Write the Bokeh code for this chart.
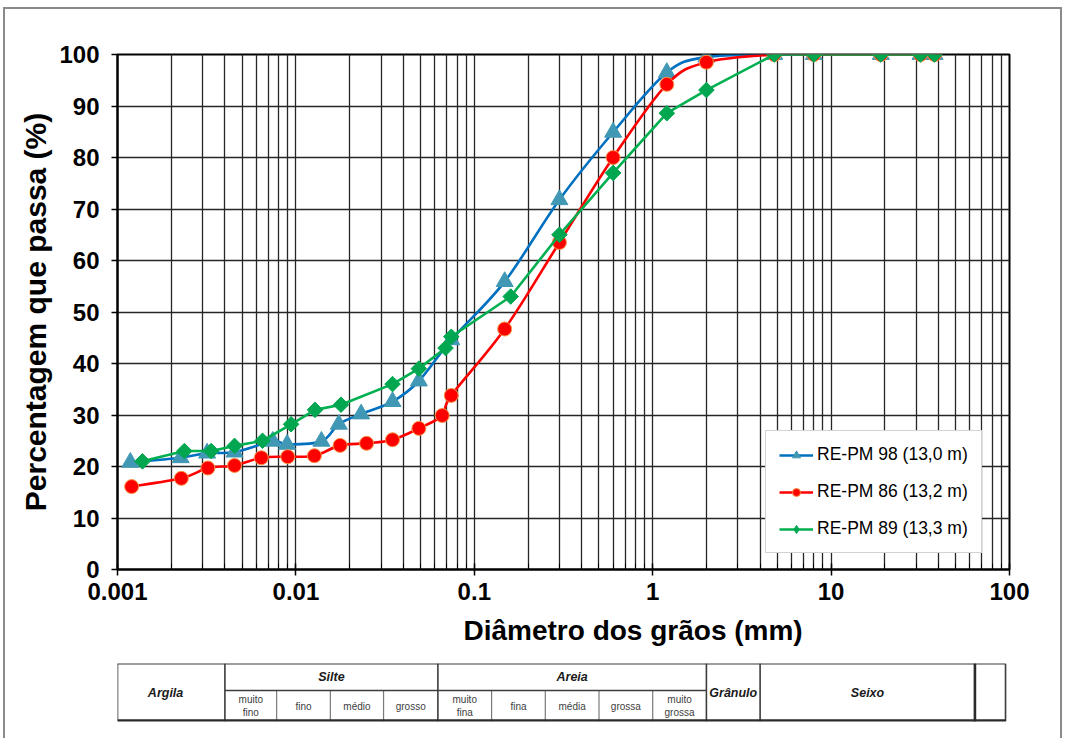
import numpy as np
from bokeh.plotting import figure
from bokeh.models import Range1d, FixedTicker, Legend, LegendItem, ColumnDataSource, Title
from bokeh.layouts import column
from bokeh.embed import file_html
from bokeh.resources import INLINE
from bokeh.core.properties import value

# ---------------- data ----------------
x_ticks = [0.001, 0.01, 0.1, 1, 10, 100]
x_tick_labels = ["0.001", "0.01", "0.1", "1", "10", "100"]
y_ticks = [0, 10, 20, 30, 40, 50, 60, 70, 80, 90, 100]

s98_name = "RE-PM 98 (13,0 m)"
s98_x = [0.00118, 0.00226, 0.00318, 0.00453, 0.00742, 0.00893, 0.0139, 0.0174, 0.0232, 0.0348,
         0.0489, 0.0743, 0.148, 0.30, 0.60, 1.2, 2.0, 4.8, 8.0, 19.0, 31.7, 38.0]
s98_y = [20.8, 21.7, 22.6, 22.8, 24.9, 24.3, 24.9, 28.2, 30.2, 32.6,
         36.6, 44.6, 55.9, 71.8, 84.9, 96.5, 99.5, 100, 100, 100, 100, 100]

s86_name = "RE-PM 86 (13,2 m)"
s86_x = [0.0012, 0.00228, 0.00321, 0.00453, 0.0064, 0.0090, 0.0127, 0.0177, 0.0249, 0.0348,
         0.0489, 0.0661, 0.0743, 0.148, 0.30, 0.60, 1.2, 2.0, 4.8, 8.0, 19.0, 31.7, 38.0]
s86_y = [16.1, 17.7, 19.7, 20.2, 21.7, 21.9, 22.1, 24.1, 24.5, 25.2,
         27.4, 29.9, 33.8, 46.7, 63.5, 80.0, 94.2, 98.5, 100, 100, 100, 100, 100]

s89_name = "RE-PM 89 (13,3 m)"
s89_x = [0.00138, 0.00237, 0.00335, 0.00453, 0.0065, 0.0094, 0.0128, 0.0179, 0.0348, 0.0489,
         0.069, 0.0743, 0.16, 0.30, 0.60, 1.2, 2.0, 4.8, 8.0, 19.0, 31.7, 38.0]
s89_y = [21.0, 23.0, 23.0, 24.0, 25.0, 28.2, 31.0, 32.0, 36.0, 39.0,
         43.0, 45.2, 53.0, 65.0, 77.0, 88.6, 93.1, 100, 100, 100, 100, 100]

# grain-size classification table (mm boundaries)
class_edges = [0.001, 0.004, 0.0625, 2, 4, 64, 95]
class_labels = ["Argila", "Silte", "Areia", "Grânulo", "Seixo", ""]
silt_edges = [0.004, 0.0078, 0.0156, 0.031, 0.0625]
silt_labels = ["muito\nfino", "fino", "médio", "grosso"]
sand_edges = [0.0625, 0.125, 0.25, 0.5, 1, 2]
sand_labels = ["muito\nfina", "fina", "média", "grossa", "muito\ngrossa"]

FONT = "Liberation Sans"


def smooth_source(xs, ys):
    """Cubic Bezier control points (Catmull-Rom in log-x space) for a smoothed line."""
    lx = np.log10(np.asarray(xs, float))
    y = np.asarray(ys, float)
    n = len(lx)
    d = dict(x0=[], y0=[], x1=[], y1=[], cx0=[], cy0=[], cx1=[], cy1=[])
    for i in range(n - 1):
        a = max(i - 1, 0)
        b = min(i + 2, n - 1)
        c1x = lx[i] + (lx[i + 1] - lx[a]) / 6.0
        c1y = y[i] + (y[i + 1] - y[a]) / 6.0
        c2x = lx[i + 1] - (lx[b] - lx[i]) / 6.0
        c2y = y[i + 1] - (y[b] - y[i]) / 6.0
        d["x0"].append(10 ** lx[i]); d["y0"].append(y[i])
        d["x1"].append(10 ** lx[i + 1]); d["y1"].append(y[i + 1])
        d["cx0"].append(10 ** c1x); d["cy0"].append(c1y)
        d["cx1"].append(10 ** c2x); d["cy1"].append(c2y)
    return ColumnDataSource(d)


# ---------------- main chart ----------------
p = figure(width=1055, height=646, x_axis_type="log",
           x_range=Range1d(0.001, 100), y_range=Range1d(0, 100),
           output_backend="svg", toolbar_location=None,
           min_border_left=112, min_border_right=51, min_border_top=45, min_border_bottom=86)
p.background_fill_color = "white"
p.border_fill_color = "white"
p.outline_line_color = "black"
p.outline_line_width = 2

p.xaxis.ticker = FixedTicker(ticks=x_ticks,
                             minor_ticks=[m * d for d in x_ticks[:-1] for m in range(2, 10)])
p.xaxis.major_label_overrides = dict(zip(x_ticks, x_tick_labels))
p.yaxis.ticker = FixedTicker(ticks=y_ticks)

for ax in (p.xaxis, p.yaxis):
    ax.axis_line_color = "black"
    ax.axis_line_width = 2
    ax.major_tick_line_color = "black"
    ax.major_tick_line_width = 1.5
    ax.major_label_text_font = FONT
    ax.major_label_text_font_style = "bold"
    ax.major_label_text_font_size = "24px"
    ax.major_label_text_color = "black"
    ax.axis_label_text_font = FONT
    ax.axis_label_text_font_style = "bold"
    ax.axis_label_text_color = "black"

p.xaxis.major_tick_in = 6
p.xaxis.major_tick_out = 6
p.xaxis.minor_tick_in = 6
p.xaxis.minor_tick_out = 0
p.xaxis.minor_tick_line_color = "black"
p.xaxis.major_label_standoff = 7

p.yaxis.major_tick_in = 0
p.yaxis.major_tick_out = 6
p.yaxis.minor_tick_line_color = None
p.yaxis.major_label_standoff = 12
p.yaxis.axis_label = "Percentagem que passa (%)"
p.yaxis.axis_label_text_font_size = "30px"
p.yaxis.axis_label_standoff = 4

# x-axis title, placed under the axis and shifted right as in the original
xt = Title(text="Diâmetro dos grãos (mm)", align="left", offset=346, standoff=20,
           text_font=FONT, text_font_style="bold", text_font_size="28px", text_color="black")
p.add_layout(xt, "below")

GRID = "#262626"
p.xgrid.grid_line_color = GRID
p.xgrid.grid_line_width = 1.3
p.xgrid.minor_grid_line_color = GRID
p.xgrid.minor_grid_line_width = 1.3
p.ygrid.grid_line_color = GRID
p.ygrid.grid_line_width = 1.3

# series
b_line = p.bezier(x0="x0", y0="y0", x1="x1", y1="y1", cx0="cx0", cy0="cy0", cx1="cx1", cy1="cy1",
                  source=smooth_source(s98_x, s98_y), line_color="#0070C0", line_width=2.6)
b_pts = p.scatter(s98_x, s98_y, marker="triangle", size=17,
                  fill_color="#4198B4", line_color="#4198B4")

r_line = p.bezier(x0="x0", y0="y0", x1="x1", y1="y1", cx0="cx0", cy0="cy0", cx1="cx1", cy1="cy1",
                  source=smooth_source(s86_x, s86_y), line_color="#FF0000", line_width=2.6)
r_pts = p.scatter(s86_x, s86_y, marker="circle", size=14,
                  fill_color="#FF0000", line_color="#F79646", line_width=1)

g_line = p.line(s89_x, s89_y, line_color="#00B050", line_width=2.6)
g_pts = p.scatter(s89_x, s89_y, marker="square", size=11, angle=np.pi / 4,
                  fill_color="#00A650", line_color="#00A650")
# same points as a diamond marker, used only for the legend swatch
g_key = p.scatter(s89_x, s89_y, marker="diamond", size=13,
                  fill_color="#00A650", line_color="#00A650", visible=False)

legend = Legend(items=[LegendItem(label=s98_name, renderers=[b_line, b_pts]),
                       LegendItem(label=s86_name, renderers=[r_line, r_pts]),
                       LegendItem(label=s89_name, renderers=[g_line, g_key])],
                location=(648, 16))
legend.click_policy = "none"
legend.inactive_fill_alpha = 0
legend.label_text_font = FONT
legend.label_text_font_size = "17.5px"
legend.label_text_color = "black"
legend.glyph_width = 34
legend.glyph_height = 20
legend.label_height = 20
legend.label_standoff = 4
legend.padding = 13
legend.spacing = 16
legend.margin = 0
legend.border_line_color = "#a6a6a6"
legend.border_line_width = 1
legend.background_fill_color = "white"
legend.background_fill_alpha = 1
p.add_layout(legend)

# ---------------- classification table ----------------
t = figure(width=1055, height=83, x_axis_type="log", x_range=p.x_range, y_range=Range1d(0, 58),
           output_backend="svg", toolbar_location=None,
           min_border_left=112, min_border_right=51, min_border_top=8, min_border_bottom=17)
t.axis.visible = False
t.grid.visible = False
t.outline_line_color = None
t.background_fill_color = "white"
t.border_fill_color = "white"

H, MID = 58, 31
LC = "#3c3c3c"
t.segment(x0=class_edges, y0=[0] * len(class_edges), x1=class_edges, y1=[H] * len(class_edges),
          line_color=LC, line_width=1.6)
sub_edges = silt_edges[1:-1] + sand_edges[1:-1]
t.segment(x0=sub_edges, y0=[0] * len(sub_edges), x1=sub_edges, y1=[MID] * len(sub_edges),
          line_color="#7a7a7a", line_width=1.2)
t.segment(x0=[class_edges[0]], y0=[H], x1=[class_edges[-1]], y1=[H], line_color=LC, line_width=2)
t.segment(x0=[class_edges[0]], y0=[0.8], x1=[class_edges[-1]], y1=[0.8], line_color="#2a2a2a", line_width=3)
t.segment(x0=[silt_edges[0]], y0=[MID], x1=[sand_edges[-1]], y1=[MID], line_color=LC, line_width=1.4)
t.segment(x0=[class_edges[-2]], y0=[0], x1=[class_edges[-2]], y1=[H], line_color="#2a2a2a", line_width=2.6)

cx = [float(np.sqrt(a * b)) for a, b in zip(class_edges[:-1], class_edges[1:])]
cx[0] = cx[0] * 0.93  # "Argila" sits slightly left of the column's log-centre
cy = [45 if lab in ("Silte", "Areia") else 29 for lab in class_labels]
t.text(x=cx, y=cy, text=class_labels, text_font=value(FONT), text_font_style="bold italic",
       text_font_size="12.5px", text_align="center", text_baseline="middle", text_color="#1a1a1a")

sx, sy, st = [], [], []
for edges, labels in ((silt_edges, silt_labels), (sand_edges, sand_labels)):
    for a, b, lab in zip(edges[:-1], edges[1:], labels):
        parts = lab.split("\n")
        ys = [15] if len(parts) == 1 else [22, 9]
        for part, yy in zip(parts, ys):
            sx.append(float(np.sqrt(a * b))); sy.append(yy); st.append(part)
t.text(x=sx, y=sy, text=st, text_font=value(FONT), text_font_size="10px",
       text_align="center", text_baseline="middle", text_color="#404040")

layout = column(p, t, spacing=0, margin=(7, 0, 0, 3),
                styles={"border-top": "2px solid #8a8a8a", "border-left": "2px solid #8a8a8a",
                        "border-right": "2px solid #8a8a8a"})

open("out.html", "w").write(file_html(layout, INLINE))
